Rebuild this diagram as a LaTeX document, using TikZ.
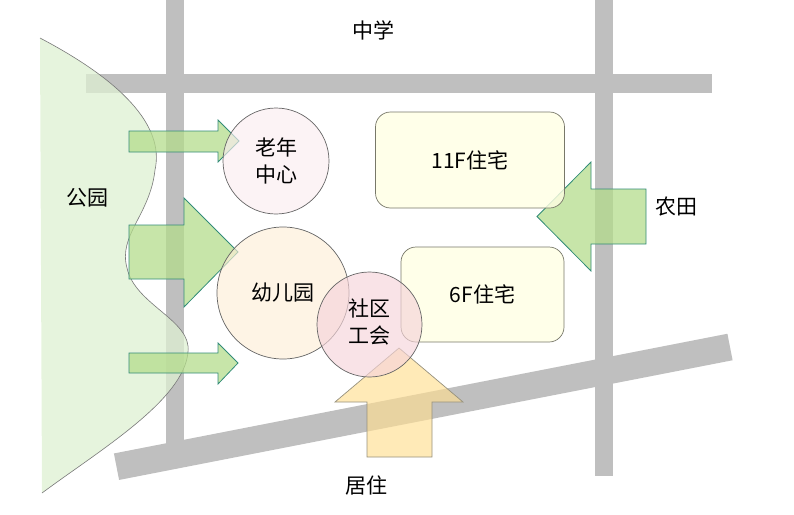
\documentclass[tikz,border=0pt]{standalone}
\usepackage{fontspec}
\setmainfont{Noto Sans CJK SC}
\begin{document}
\begin{tikzpicture}[x=1pt,y=-1pt,
  road/.style={line width=19pt,draw=roadgray},
  greenarrow/.style={fill=arrowgreen,fill opacity=0.75,draw=arrowedge,line width=0.8pt,line join=miter},
  beigearrow/.style={fill=arrowbeige,fill opacity=0.65,draw=beigeedge,line width=0.7pt},
  place/.style={circle,draw=edgegray,line width=0.7pt,fill opacity=0.65,text opacity=1,inner sep=0pt,align=center,font=\fontsize{21}{27}\selectfont},
  house/.style={rectangle,rounded corners=15pt,draw=houseedge,line width=0.7pt,fill=housefill,fill opacity=0.8,text opacity=1,font=\fontsize{21}{24}\selectfont},
  label/.style={font=\fontsize{21}{24}\selectfont,inner sep=0pt}]
\definecolor{roadgray}{RGB}{191,191,191}
\definecolor{parkfill}{RGB}{222,240,210}
\definecolor{parkedge}{RGB}{120,120,120}
\definecolor{arrowgreen}{RGB}{180,220,140}
\definecolor{arrowedge}{RGB}{50,140,120}
\definecolor{arrowbeige}{RGB}{255,222,145}
\definecolor{beigeedge}{RGB}{150,145,125}
\definecolor{edgegray}{RGB}{100,100,100}
\definecolor{oldfill}{RGB}{251,236,240}
\definecolor{kidfill}{RGB}{253,238,215}
\definecolor{unionfill}{RGB}{246,212,218}
\definecolor{houseedge}{RGB}{120,120,105}
\definecolor{housefill}{RGB}{255,255,228}
\useasboundingbox (0,0) rectangle (794,514);
% roads
\fill[roadgray] (86,74) rectangle (712,93);
\fill[roadgray] (166,0) rectangle (184,445);
\fill[roadgray] (595,0) rectangle (613,476);
\draw[road,line width=27pt] (116.5,466.7) -- (730,347);
% park
\fill[parkfill,fill opacity=0.75] (40,38) .. controls (120,80) and (165,125) .. (155,170)
  .. controls (150,215) and (118,235) .. (127,268)
  .. controls (135,305) and (192,320) .. (188,352)
  .. controls (184,400) and (100,450) .. (42,493) -- cycle;
\draw[parkedge,line width=0.6pt] (40,38) .. controls (120,80) and (165,125) .. (155,170)
  .. controls (150,215) and (118,235) .. (127,268)
  .. controls (135,305) and (192,320) .. (188,352)
  .. controls (184,400) and (100,450) .. (42,493);
\node[label] (park) at (87,198) {公园};
% arrows
\draw[greenarrow] (129,131) -- (218,131) -- (218,120) -- (239,141) -- (218,162) -- (218,152) -- (129,152) -- cycle;
\draw[greenarrow] (129,225) -- (184,225) -- (184,198) -- (238,252) -- (184,307) -- (184,279) -- (129,279) -- cycle;
\draw[greenarrow] (129,353) -- (218,353) -- (218,343) -- (238,363) -- (218,384) -- (218,373) -- (129,373) -- cycle;
\draw[greenarrow] (646,189) -- (591,189) -- (591,162) -- (537,216.5) -- (591,271) -- (591,244) -- (646,244) -- cycle;
\draw[beigearrow] (367,457) -- (367,402) -- (335,402) -- (399,348) -- (463,402) -- (432,402) -- (432,457) -- cycle;
% houses
\node[house,minimum width=189pt,minimum height=96pt] (h11) at (470,160) {11F住宅};
\node[house,minimum width=163pt,minimum height=95pt] (h6) at (482.5,294.5) {6F住宅};
% places
\node[place,fill=oldfill,minimum size=106pt] (old) at (276,161) {老年\\中心};
\node[place,fill=kidfill,minimum size=132pt] (kid) at (283,293) {};
\node[label] (kidtext) at (283,293) {幼儿园};
\node[place,fill=unionfill,minimum size=105pt] (union) at (369.5,324.5) {};
\node[align=center,font=\fontsize{21}{27}\selectfont,inner sep=0pt] (uniontext) at (369.5,322) {社区\\工会};
% labels
\node[label] (school) at (373,30) {中学};
\node[label] (farm) at (676,207) {农田};
\node[label] (live) at (366,485) {居住};
\end{tikzpicture}
\end{document}
